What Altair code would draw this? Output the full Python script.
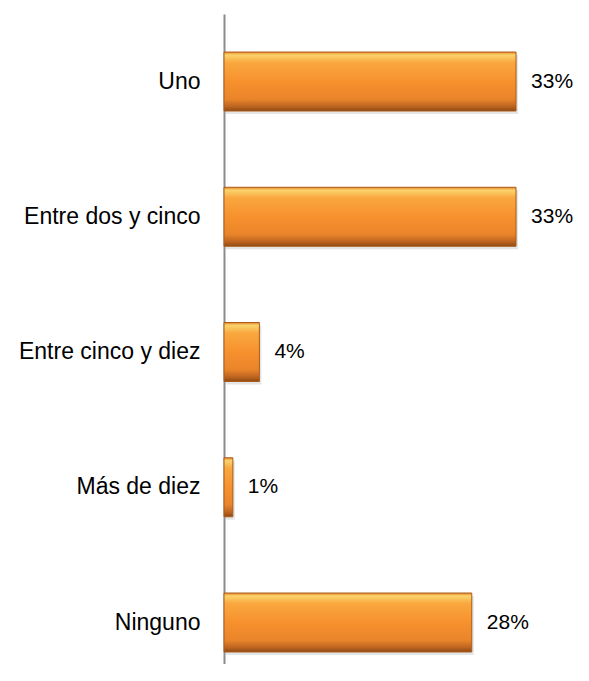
import altair as alt
import pandas as pd

categories = ["Uno", "Entre dos y cinco", "Entre cinco y diez", "Más de diez", "Ninguno"]
values = [33, 33, 4, 1, 28]
labels = ["33%", "33%", "4%", "1%", "28%"]

df = pd.DataFrame({"cat": categories, "val": values, "lab": labels})

FONT = "Liberation Sans"

y_enc = alt.Y(
    "cat:N",
    sort=categories,
    title=None,
    scale=alt.Scale(paddingInner=0.564, paddingOuter=0.185, align=0.76),
    axis=alt.Axis(
        domain=True, domainColor="#8c8c8c", domainWidth=2,
        ticks=False, labelPadding=24, labelFontSize=23, labelFont=FONT,
        labelColor="#000000", labelLimit=300, grid=False,
    ),
)
x_enc = alt.X("val:Q", scale=alt.Scale(domain=[0, 36.5]), axis=None)

gradient = alt.Gradient(
    gradient="linear", x1=0, x2=0, y1=0, y2=1,
    stops=[
        alt.GradientStop(offset=0, color="#E8882C"),
        alt.GradientStop(offset=0.05, color="#FAD36C"),
        alt.GradientStop(offset=0.18, color="#F9A73E"),
        alt.GradientStop(offset=0.5, color="#F7912E"),
        alt.GradientStop(offset=0.8, color="#E9842A"),
        alt.GradientStop(offset=0.92, color="#BE6520"),
        alt.GradientStop(offset=1, color="#8E4A14"),
    ],
)

base = alt.Chart(df)

shadow = base.mark_bar(color="#999999", opacity=0.25, yOffset=3, xOffset=2).encode(
    x=x_enc, y=y_enc
)

bars = base.mark_bar(color=gradient, stroke="#A95C1A", strokeWidth=1).encode(
    x=x_enc, y=y_enc
)

text = base.mark_text(
    align="left", baseline="middle", dx=15, fontSize=21, font=FONT, color="#000000"
).encode(x=x_enc, y=y_enc, text="lab:N")

chart = (
    alt.layer(shadow, bars, text)
    .properties(
        width=323, height=650,
        autosize=alt.AutoSizeParams(type="none"),
        padding={"left": 216, "top": 6, "right": 34, "bottom": 0},
        view=alt.ViewBackground(strokeOpacity=0, strokeWidth=0),
    )
    .configure_view(strokeWidth=0, strokeOpacity=0)
    .configure_axis(grid=False)
    .configure(background="white")
)

chart.save("out.html", embed_options={"renderer": "svg", "actions": False})
